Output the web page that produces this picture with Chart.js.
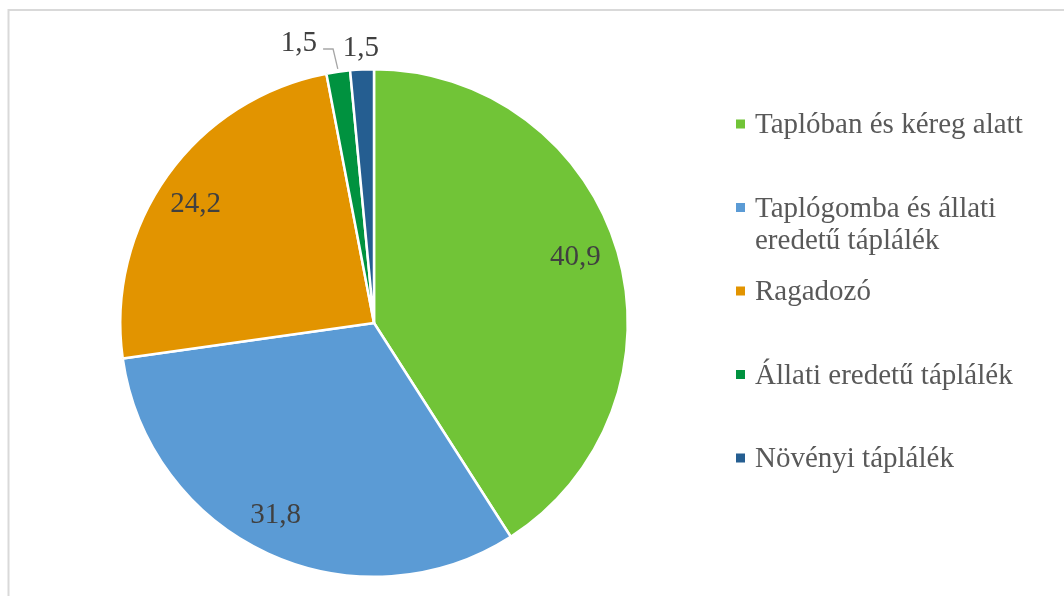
<!DOCTYPE html>
<html>
<head>
<meta charset="utf-8">
<script src="https://cdn.jsdelivr.net/npm/chart.js@4.4.1/dist/chart.umd.min.js"></script>
<style>
html,body{margin:0;padding:0;background:#fff;}
#wrap{width:1064px;height:596px;position:relative;}
</style>
</head>
<body>
<div id="wrap"><canvas id="c" width="1064" height="596"></canvas></div>
<script>
const categories = ["Taplóban és kéreg alatt", "Taplógomba és állati eredetű táplálék", "Ragadozó", "Állati eredetű táplálék", "Növényi táplálék"];
const values = [40.9, 31.8, 24.2, 1.5, 1.5];
const valueLabels = ["40,9", "31,8", "24,2", "1,5", "1,5"];
const colors = ["#71C437", "#5B9BD5", "#E29400", "#00923F", "#255E91"];

const SERIF = "'Times New Roman', 'Liberation Serif', serif";

// label placement style: inside fraction / outside, plus pixel nudges
const labelStyle = [
  {inside: true, nudge: [-2, -8]},
  {inside: true, nudge: [-10, -2]},
  {inside: true, nudge: [-6, 2]},
  {inside: false, nudge: [-36, -8], leader: true},
  {inside: false, nudge: [0, 0]}
];

const framePlugin = {
  id: 'frame',
  beforeDraw(chart) {
    const ctx = chart.ctx;
    ctx.save();
    ctx.fillStyle = '#fff';
    ctx.fillRect(0, 0, chart.width, chart.height);
    ctx.strokeStyle = '#d9d9d9';
    ctx.lineWidth = 2;
    ctx.strokeRect(8.5, 10, chart.width + 20, chart.height + 20);
    ctx.restore();
  }
};

const labelPlugin = {
  id: 'pieLabels',
  afterDatasetsDraw(chart) {
    const ctx = chart.ctx;
    const meta = chart.getDatasetMeta(0);
    ctx.save();
    const fs = 29;
    ctx.font = fs + 'px ' + SERIF;
    ctx.fillStyle = '#404040';
    ctx.textAlign = 'center';
    ctx.textBaseline = 'alphabetic';
    meta.data.forEach((arc, i) => {
      const p = arc.getProps(['x', 'y', 'startAngle', 'endAngle', 'outerRadius'], true);
      const mid = (p.startAngle + p.endAngle) / 2;
      const st = labelStyle[i];
      const rr = st.inside ? p.outerRadius * 0.835 : p.outerRadius + 23;
      const cx = p.x + Math.cos(mid) * rr + st.nudge[0];
      const cy = p.y + Math.sin(mid) * rr + st.nudge[1];
      ctx.fillText(valueLabels[i], cx, cy + fs * 0.34);
      if (st.leader) {
        const w = ctx.measureText(valueLabels[i]).width;
        const ex = p.x + Math.cos(mid) * (p.outerRadius + 3);
        const ey = p.y + Math.sin(mid) * (p.outerRadius + 3);
        ctx.save();
        ctx.strokeStyle = '#a6a6a6';
        ctx.lineWidth = 1.3;
        ctx.beginPath();
        ctx.moveTo(cx + w / 2 + 6, cy + 8);
        ctx.lineTo(cx + w / 2 + 16, cy + 8);
        ctx.lineTo(ex, ey);
        ctx.stroke();
        ctx.restore();
      }
    });
    ctx.restore();
  }
};

const legendPlugin = {
  id: 'sideLegend',
  afterDraw(chart) {
    const ctx = chart.ctx;
    const bg = chart.data.datasets[0].backgroundColor;
    ctx.save();
    ctx.font = '29px ' + SERIF;
    ctx.textAlign = 'left';
    ctx.textBaseline = 'alphabetic';
    const x0 = 736, tx = 755, maxW = 295, top = 124, step = 83.5, lh = 32;
    chart.data.labels.forEach((lab, i) => {
      const yc = top + i * step;
      ctx.fillStyle = bg[i];
      ctx.fillRect(x0, yc - 4.5, 9, 9);
      const words = lab.split(' ');
      const lines = [];
      let cur = '';
      words.forEach(w => {
        const t = cur ? cur + ' ' + w : w;
        if (ctx.measureText(t).width > maxW && cur) { lines.push(cur); cur = w; }
        else cur = t;
      });
      if (cur) lines.push(cur);
      ctx.fillStyle = '#595959';
      lines.forEach((ln, k) => ctx.fillText(ln, tx, yc + 9 + k * lh));
    });
    ctx.restore();
  }
};

new Chart(document.getElementById('c'), {
  type: 'pie',
  data: {
    labels: categories,
    datasets: [{
      data: values,
      backgroundColor: colors,
      borderColor: '#ffffff',
      borderWidth: 2.5
    }]
  },
  options: {
    responsive: false,
    animation: false,
    events: [],
    rotation: 0,
    layout: { padding: { left: 119, right: 435, top: 68, bottom: 18 } },
    plugins: { legend: { display: false }, tooltip: { enabled: false } }
  },
  plugins: [framePlugin, labelPlugin, legendPlugin]
});
</script>
</body>
</html>
